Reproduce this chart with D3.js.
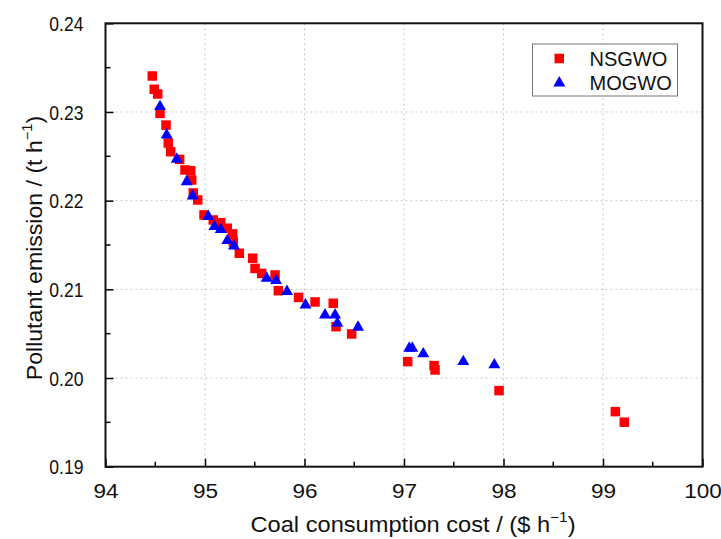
<!DOCTYPE html>
<html>
<head>
<meta charset="utf-8">
<script src="https://cdn.jsdelivr.net/npm/d3@7"></script>
<style>
  body { margin: 0; background: #fff; }
  svg { font-family: Arial, "Liberation Sans", sans-serif; }
</style>
</head>
<body>
<svg width="721" height="539"></svg>
<script>
const svg = d3.select('svg')
const margin = {left:105.5, right:18.5, top:23.3, bottom:72.3}
const width = 721 - margin.left - margin.right
const height = 539 - margin.top - margin.bottom

// NSGWO results (cost, emission)
const nsgwoCost = [94.47,94.49,94.525,94.548,94.608,94.631,94.655,94.745,94.799,94.856,94.866,94.882,94.927,94.99,95.083,95.158,95.224,95.278,95.284,95.345,95.479,95.503,95.57,95.704,95.737,95.94,96.106,96.289,96.317,96.474,97.037,97.302,97.312,97.955,99.124,99.214]
const nsgwoEmis = [0.23406,0.23256,0.23203,0.22985,0.22852,0.2265,0.22552,0.22465,0.22346,0.22338,0.22233,0.22087,0.22008,0.21839,0.21782,0.21752,0.21689,0.21625,0.21538,0.21407,0.21351,0.21236,0.21179,0.21162,0.20985,0.20909,0.20858,0.20843,0.20579,0.20497,0.20185,0.2014,0.20091,0.19858,0.19621,0.19502]
// MOGWO results
const mogwoCost = [94.548,94.615,94.716,94.816,94.876,95.033,95.095,95.158,95.224,95.291,95.62,95.714,95.824,96.01,96.206,96.307,96.33,96.538,97.053,97.083,97.194,97.596,97.908]
const mogwoEmis = [0.2306,0.22741,0.22467,0.22214,0.22053,0.21822,0.21707,0.21673,0.21549,0.21489,0.21125,0.21098,0.20976,0.20824,0.20711,0.20711,0.20618,0.20573,0.20336,0.20336,0.20272,0.20185,0.20148]

const xTicks = [94,95,96,97,98,99,100]
const yTicks = [0.19,0.20,0.21,0.22,0.23,0.24]
const series = ['NSGWO','MOGWO']

const x = d3.scaleLinear().domain([94,100]).range([0,width])
const y = d3.scaleLinear().domain([0.19,0.24]).range([height,0])

const g = svg.append('g').attr('transform',`translate(${margin.left},${margin.top})`)

// grid
g.append('g').selectAll('line').data(xTicks.slice(1,-1)).join('line')
  .attr('x1',d => x(d)).attr('x2',d => x(d)).attr('y1',0).attr('y2',height)
  .attr('stroke','#c8c8c8').attr('stroke-width',1).attr('stroke-dasharray','2,3')
g.append('g').selectAll('line').data(yTicks.slice(1,-1)).join('line')
  .attr('y1',d => y(d)).attr('y2',d => y(d)).attr('x1',0).attr('x2',width)
  .attr('stroke','#c8c8c8').attr('stroke-width',1).attr('stroke-dasharray','2,3')

// axes: ticks inward
const xMinor = d3.range(94.5,100,1)
const yMinor = d3.range(0.195,0.24,0.01)
const xAxis = g.append('g').attr('transform',`translate(0,${height})`)
  .call(d3.axisBottom(x).tickValues(xTicks).tickSizeInner(-8).tickSizeOuter(0).tickFormat(d3.format('d')))
xAxis.append('g').selectAll('line').data(xMinor).join('line')
  .attr('x1',d => x(d)).attr('x2',d => x(d)).attr('y1',0).attr('y2',-5).attr('stroke','#000').attr('stroke-width',1.5)
const yAxis = g.append('g')
  .call(d3.axisLeft(y).tickValues(yTicks).tickSizeInner(-8).tickSizeOuter(0).tickFormat(d3.format('.2f')))
yAxis.append('g').selectAll('line').data(yMinor).join('line')
  .attr('y1',d => y(d)).attr('y2',d => y(d)).attr('x1',0).attr('x2',5).attr('stroke','#000').attr('stroke-width',1.5)
svg.selectAll('.tick line').attr('stroke-width',1.5)
svg.selectAll('.tick text').attr('fill','#111').attr('font-family','Arial, "Liberation Sans", sans-serif')
// the original labels are slightly stretched / condensed
xAxis.selectAll('.tick text').attr('font-size',20.5).attr('x',0).attr('y',0).attr('dy',0)
  .attr('transform','translate(0,31) scale(1.1,1)')
yAxis.selectAll('.tick text').attr('font-size',19.5).attr('x',0).attr('dy','0.36em')
  .attr('transform','translate(-22,0) scale(0.9,1)')
svg.selectAll('.domain').remove()

// frame
g.append('rect').attr('width',width).attr('height',height)
  .attr('fill','none').attr('stroke','#111').attr('stroke-width',2)

// points
g.append('g').selectAll('rect').data(nsgwoCost).join('rect')
  .attr('x',(d,i) => x(d) - 4.75).attr('y',(d,i) => y(nsgwoEmis[i]) - 4.75)
  .attr('width',9.5).attr('height',9.5).attr('fill','#ff0000')
const tri = d3.symbol().type(d3.symbolTriangle).size(62)
g.append('g').selectAll('path').data(mogwoCost).join('path')
  .attr('d',tri).attr('fill','#0000ff')
  .attr('transform',(d,i) => `translate(${x(d)},${y(mogwoEmis[i])})`)

// legend
const lg = svg.append('g').attr('transform','translate(532.5,44)')
lg.append('rect').attr('width',145).attr('height',52).attr('fill','#fff').attr('stroke','#777').attr('stroke-width',1)
series.forEach((s,i) => {
  const cy = 14.5 + i*24.5
  if(i === 0) lg.append('rect').attr('x',22).attr('y',cy-4.75).attr('width',9.5).attr('height',9.5).attr('fill','#ff0000')
  else lg.append('path').attr('d',tri).attr('fill','#0000ff').attr('transform',`translate(26.8,${cy})`)
  lg.append('text').attr('x',57).attr('y',cy).attr('dy','0.36em').attr('font-size',20).attr('fill','#111').text(s)
})

// axis titles
const xt = svg.append('text').attr('transform',`translate(413,532) scale(1.1,1)`)
  .attr('text-anchor','middle').attr('font-size',21.5).attr('fill','#111')
xt.append('tspan').text('Coal consumption cost / ($ h')
xt.append('tspan').attr('font-size',14).attr('dy',-10).text('\u22121')
xt.append('tspan').attr('dy',10).text(')')

const yt = svg.append('text').attr('transform',`translate(42,248) rotate(-90) scale(1.05,1)`)
  .attr('text-anchor','middle').attr('font-size',22).attr('fill','#111')
yt.append('tspan').text('Pollutant emission / (t h')
yt.append('tspan').attr('font-size',14).attr('dy',-10).text('\u22121')
yt.append('tspan').attr('dy',10).text(')')
</script>
</body>
</html>
